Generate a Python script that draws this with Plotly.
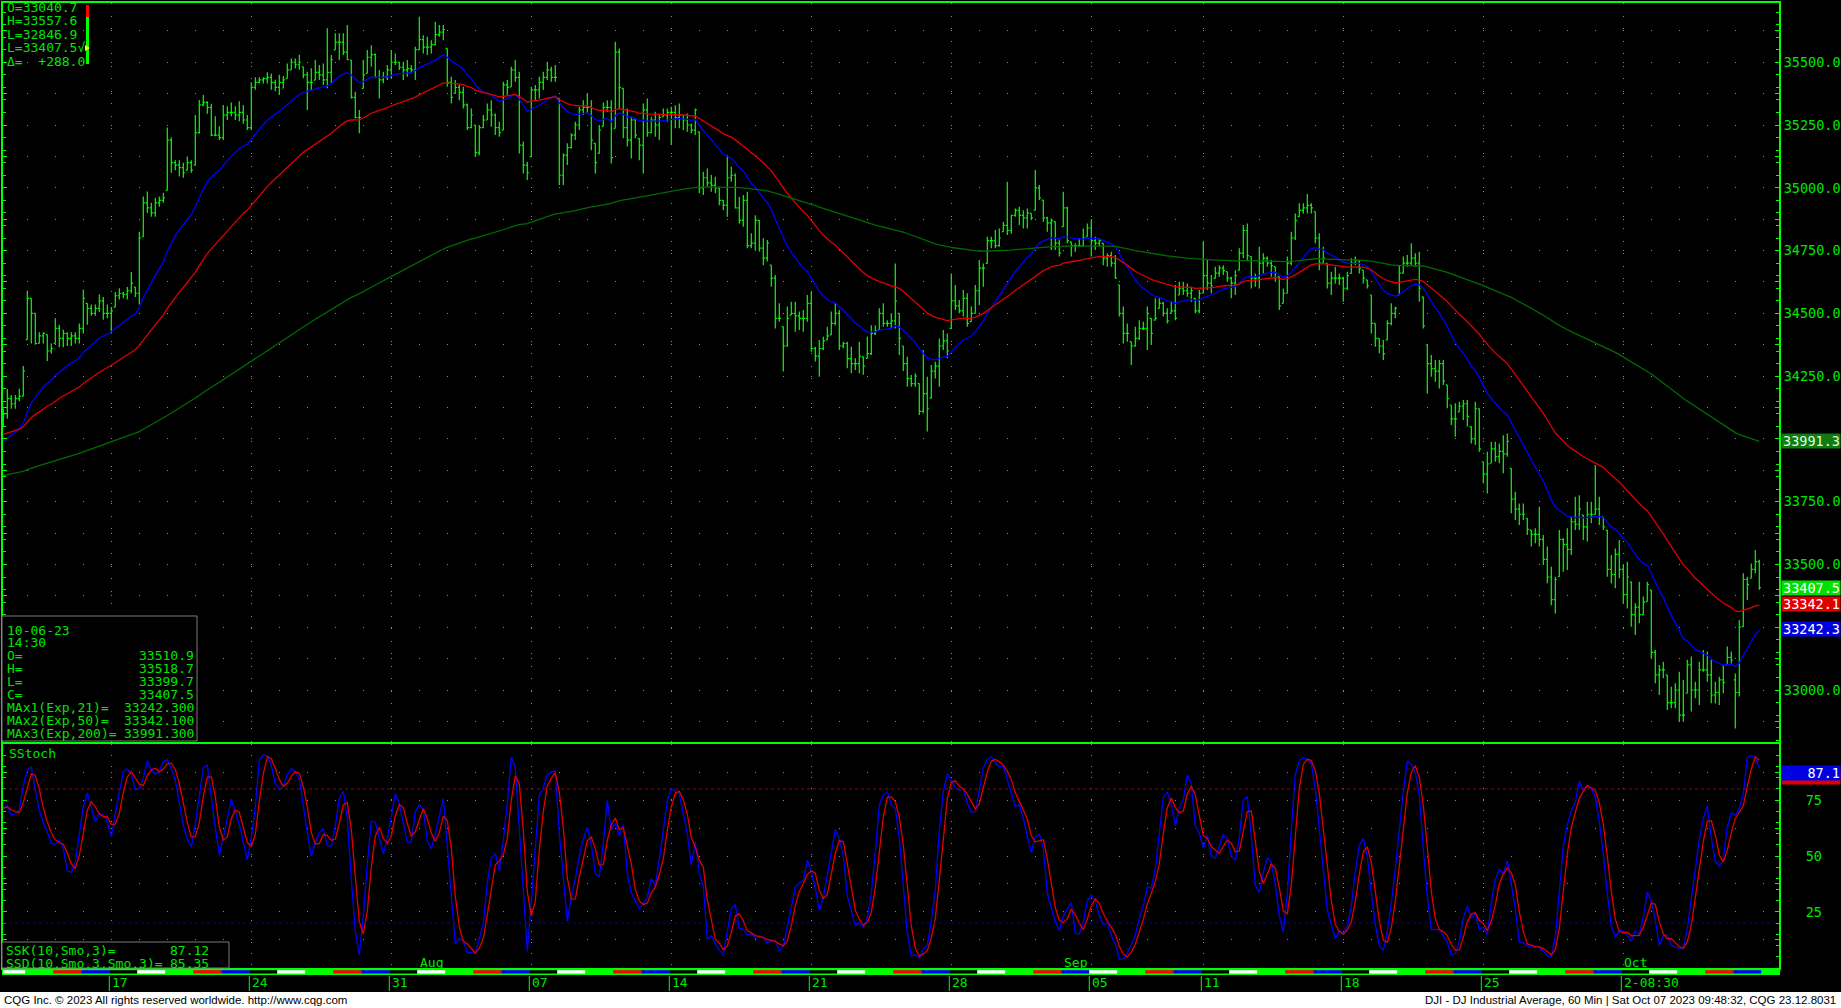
import plotly.graph_objects as go
import pandas as pd

# ---------------- data ----------------
OPEN = [
34080,34100,34160,34140,34160,34170,34395,34560,34500,34380,
34410,34415,34350,34380,34440,34400,34420,34400,34410,34400,
34440,34540,34520,34500,34520,34550,34500,34500,34525,34570,
34580,34575,34590,34605,34580,34805,34940,34920,34900,34940,
34950,34990,35190,35100,35090,35080,35070,35100,35090,35220,
35330,35340,35320,35210,35210,35200,35290,35300,35300,35290,
35300,35270,35240,35400,35420,35430,35435,35440,35420,35400,
35420,35435,35470,35500,35490,35482,35450,35420,35429,35460,
35450,35430,35460,35549,35580,35580,35540,35509,35360,35280,
35396,35456,35520,35530,35440,35430,35440,35470,35500,35500,
35480,35470,35475,35470,35550,35590,35560,35560,35570,35610,
35620,35555,35420,35376,35400,35380,35330,35240,35250,35140,
35240,35270,35310,35290,35240,35230,35410,35402,35470,35440,
35170,35090,35124,35390,35390,35420,35440,35470,35440,35356,
35050,35130,35160,35210,35250,35310,35320,35320,35177,35137,
35245,35320,35320,35237,35540,35396,35240,35190,35270,35197,
35170,35310,35220,35270,35250,35283,35290,35300,35300,35280,
35290,35270,35250,35230,35223,35000,35040,35020,35010,35000,
34950,34930,35040,35050,34920,34870,34950,34770,34780,34870,
34760,34720,34692,34640,34480,34447,34370,34493,34500,34490,
34480,34480,34540,34360,34330,34360,34394,34414,34460,34500,
34370,34380,34320,34300,34300,34327,34321,34340,34420,34434,
34500,34460,34460,34470,34500,34370,34300,34240,34220,34221,
34110,34180,34162,34270,34290,34370,34390,34440,34550,34530,
34510,34560,34467,34500,34590,34680,34699,34790,34790,34770,
34825,34850,34830,34890,34910,34890,34880,34898,34911,35000,
34951,34880,34860,34865,34780,34845,34920,34785,34770,34770,
34770,34805,34840,34790,34780,34779,34720,34730,34700,34613,
34500,34420,34387,34370,34400,34440,34440,34480,34473,34520,
34540,34500,34500,34510,34573,34600,34590,34580,34560,34510,
34580,34650,34620,34639,34660,34680,34666,34640,34620,34672,
34740,34830,34726,34640,34640,34700,34720,34700,34686,34646,
34540,34580,34700,34800,34885,34910,34920,34930,34905,34800,
34700,34699,34620,34640,34640,34640,34600,34659,34700,34710,
34672,34633,34573,34460,34400,34370,34394,34460,34500,34573,
34660,34700,34700,34720,34700,34566,34374,34300,34280,34270,
34300,34215,34135,34080,34108,34130,34140,34049,34000,34120,
33909,33860,33903,33960,33930,33950,33940,33883,33760,33720,
33700,33684,33637,33620,33620,33600,33520,33450,33360,33451,
33600,33580,33560,33670,33660,33697,33650,33700,33700,33720,
33690,33637,33480,33460,33540,33480,33380,33431,33300,33330,
33300,33352,33398,33150,33060,33080,33060,32950,32950,33000,
32900,32987,33100,33000,33000,33080,33080,33060,32980,32990,
33040,33100,33130,33040.7,32990,33252,33440,33445,33480,33510.9]

HIGH = [
34120,34200,34175,34175,34200,34290,34590,34560,34500,34425,
34425,34415,34380,34480,34455,34435,34425,34425,34425,34460,
34595,34540,34535,34535,34575,34565,34535,34525,34585,34600,
34585,34605,34665,34605,34825,34965,34985,34940,34960,34965,
34980,35240,35200,35110,35110,35100,35125,35110,35290,35350,
35370,35345,35335,35285,35245,35330,35325,35340,35325,35345,
35330,35290,35420,35440,35440,35440,35460,35455,35430,35450,
35445,35495,35515,35515,35530,35482,35462,35476,35509,35489,
35495,35635,35529,35615,35615,35615,35648,35509,35383,35310,
35509,35549,35568,35535,35469,35462,35489,35549,35535,35502,
35502,35509,35489,35562,35681,35608,35602,35588,35661,35648,
35648,35555,35442,35429,35409,35402,35336,35316,35250,35250,
35290,35336,35349,35296,35263,35422,35429,35482,35509,35462,
35184,35104,35402,35409,35442,35462,35502,35482,35489,35356,
35137,35177,35217,35263,35323,35349,35376,35349,35177,35250,
35340,35349,35349,35582,35555,35396,35316,35283,35276,35197,
35336,35356,35283,35303,35290,35316,35316,35323,35329,35336,
35290,35296,35256,35316,35223,35064,35077,35051,35044,35004,
34951,35130,35084,35057,34964,34971,34984,34819,34891,34872,
34799,34792,34692,34653,34540,34447,34527,34546,34546,34507,
34513,34573,34586,34367,34394,34407,34447,34507,34540,34513,
34387,34387,34367,34321,34387,34327,34407,34453,34453,34520,
34540,34473,34500,34699,34500,34370,34327,34254,34261,34221,
34354,34248,34294,34307,34400,34434,34420,34659,34613,34553,
34593,34580,34527,34613,34712,34699,34805,34805,34832,34838,
34865,35024,34891,34918,34925,34911,34918,34898,35071,35011,
34951,34885,34878,34865,34799,34984,34925,34785,34779,34799,
34838,34858,34872,34805,34799,34779,34739,34745,34732,34613,
34527,34460,34387,34447,34473,34467,34527,34480,34560,34560,
34546,34520,34546,34613,34626,34626,34619,34606,34560,34593,
34785,34712,34653,34686,34692,34692,34666,34646,34672,34759,
34852,34858,34726,34659,34765,34739,34726,34712,34686,34646,
34599,34726,34825,34898,34938,34938,34975,34938,34905,34819,
34765,34699,34666,34686,34659,34646,34666,34719,34726,34712,
34672,34633,34573,34460,34400,34394,34473,34540,34526,34692,
34726,34732,34779,34739,34745,34566,34374,34334,34314,34314,
34314,34215,34135,34142,34148,34155,34155,34049,34148,34122,
33909,33949,33989,33989,33982,34015,34022,33883,33790,33743,
33743,33684,33637,33644,33730,33617,33571,33491,33451,33637,
33604,33644,33690,33770,33776,33697,33750,33750,33896,33770,
33690,33637,33538,33564,33597,33498,33511,33431,33345,33431,
33372,33431,33398,33159,33100,33113,33060,33013,33027,33073,
33040,33120,33133,33033,33113,33159,33153,33120,33033,33053,
33100,33173,33153,33066,33279,33465,33451,33504,33557.6,33518.7]

LOW = [
34050,34080,34120,34120,34150,34170,34395,34380,34375,34380,
34380,34310,34340,34380,34365,34365,34370,34370,34380,34380,
34420,34455,34490,34490,34505,34475,34480,34420,34525,34555,
34560,34555,34580,34565,34535,34805,34900,34885,34885,34925,
34940,34990,35060,35070,35045,35040,35070,35060,35090,35215,
35325,35295,35205,35205,35190,35190,35270,35285,35270,35265,
35255,35230,35230,35390,35415,35415,35415,35390,35385,35370,
35395,35435,35470,35475,35470,35436,35310,35389,35429,35429,
35409,35396,35416,35549,35509,35529,35509,35356,35276,35217,
35396,35456,35482,35436,35356,35416,35429,35436,35489,35469,
35429,35442,35456,35429,35549,35535,35529,35535,35568,35602,
35588,35402,35336,35376,35349,35316,35230,35237,35124,35130,
35237,35270,35243,35210,35203,35230,35369,35402,35422,35137,
35057,35031,35124,35349,35356,35389,35429,35422,35422,35011,
35011,35091,35157,35190,35230,35290,35296,35150,35057,35137,
35245,35303,35097,35237,35316,35197,35164,35117,35197,35110,
35057,35203,35217,35203,35190,35283,35263,35170,35237,35237,
35230,35223,35217,35210,34978,34971,35004,34984,34978,34931,
34911,34885,35024,34918,34858,34845,34759,34759,34752,34746,
34692,34706,34606,34440,34467,34268,34367,34493,34427,34434,
34427,34467,34347,34308,34248,34354,34394,34414,34453,34354,
34361,34281,34261,34274,34261,34255,34321,34334,34414,34434,
34447,34447,34440,34440,34334,34270,34208,34208,34208,34095,
34102,34029,34162,34241,34208,34354,34321,34440,34513,34500,
34487,34447,34467,34500,34533,34606,34699,34759,34759,34765,
34825,34812,34818,34885,34852,34838,34838,34872,34911,34951,
34865,34825,34752,34752,34726,34845,34779,34726,34745,34765,
34765,34805,34726,34752,34765,34692,34686,34686,34639,34487,
34380,34387,34294,34367,34394,34434,34354,34374,34473,34520,
34487,34460,34500,34473,34573,34573,34566,34546,34500,34500,
34580,34593,34580,34639,34646,34653,34626,34560,34573,34672,
34719,34712,34599,34606,34599,34659,34686,34646,34626,34513,
34540,34580,34692,34792,34885,34898,34898,34898,34779,34672,
34699,34599,34573,34619,34613,34546,34593,34659,34692,34659,
34619,34599,34420,34367,34341,34314,34394,34453,34480,34573,
34659,34686,34692,34686,34546,34440,34181,34248,34228,34201,
34215,34122,34055,34009,34108,34075,34049,33982,33976,33949,
33823,33783,33903,33909,33903,33863,33929,33704,33677,33657,
33677,33617,33571,33584,33571,33498,33425,33338,33305,33451,
33471,33478,33538,33637,33637,33597,33591,33664,33697,33657,
33637,33451,33425,33405,33445,33345,33325,33252,33219,33266,
33299,33352,33126,33027,32980,33047,32920,32927,32927,32874,
32874,32987,32914,32967,32940,33073,33033,32947,32947,32940,
32987,33100,33100,32846.9,32974,33252,33358,33445,33465,33399.7]

CLOSE = [
34100,34160,34140,34160,34170,34270,34560,34500,34380,34410,
34420,34350,34360,34440,34400,34420,34400,34410,34400,34440,
34560,34520,34500,34520,34550,34500,34500,34510,34570,34580,
34575,34590,34620,34580,34800,34940,34920,34900,34940,34950,
34960,35190,35100,35090,35080,35060,35100,35070,35220,35330,
35340,35320,35210,35210,35200,35290,35300,35300,35290,35300,
35270,35240,35400,35420,35430,35435,35440,35420,35400,35420,
35430,35470,35500,35490,35500,35450,35420,35420,35460,35450,
35430,35460,35510,35580,35580,35540,35510,35360,35280,35280,
35450,35520,35530,35440,35430,35440,35470,35500,35500,35480,
35470,35475,35470,35550,35590,35560,35560,35570,35610,35620,
35630,35420,35360,35400,35380,35330,35240,35290,35140,35240,
35270,35310,35290,35240,35220,35410,35400,35470,35440,35170,
35090,35060,35390,35390,35420,35440,35470,35440,35440,35050,
35130,35160,35210,35250,35310,35320,35320,35190,35100,35230,
35320,35320,35120,35540,35400,35240,35190,35270,35210,35170,
35310,35220,35270,35250,35280,35290,35300,35300,35280,35290,
35270,35250,35230,35310,35000,35040,35020,35010,35000,34950,
34930,35040,35050,34920,34870,34950,34770,34780,34870,34760,
34720,34780,34640,34480,34480,34370,34480,34500,34490,34480,
34480,34540,34360,34330,34360,34390,34410,34460,34500,34370,
34380,34320,34300,34300,34330,34290,34340,34420,34430,34500,
34460,34460,34470,34550,34400,34300,34240,34220,34250,34110,
34180,34120,34270,34290,34370,34390,34350,34550,34530,34510,
34560,34460,34500,34590,34680,34680,34790,34790,34770,34800,
34850,34830,34890,34910,34890,34880,34900,34880,35000,34960,
34880,34860,34870,34780,34740,34920,34790,34770,34770,34770,
34800,34840,34790,34780,34790,34720,34730,34700,34640,34500,
34420,34420,34370,34400,34440,34440,34500,34420,34480,34540,
34500,34470,34510,34480,34600,34590,34580,34590,34510,34580,
34650,34620,34610,34660,34680,34670,34640,34620,34650,34740,
34830,34730,34640,34640,34700,34720,34700,34690,34660,34530,
34580,34700,34800,34870,34910,34920,34930,34920,34800,34700,
34720,34620,34640,34640,34640,34600,34650,34700,34710,34680,
34640,34610,34460,34400,34370,34340,34460,34500,34520,34660,
34700,34700,34720,34700,34600,34450,34300,34280,34270,34300,
34230,34160,34080,34080,34130,34140,34090,34000,34120,33960,
33860,33900,33960,33930,33950,33940,33990,33760,33720,33700,
33700,33640,33620,33620,33600,33520,33450,33360,33440,33600,
33580,33560,33670,33660,33720,33650,33700,33700,33720,33690,
33650,33480,33460,33540,33480,33380,33450,33300,33330,33300,
33350,33420,33150,33060,33080,33080,32950,32950,33000,32900,
32900,33100,33000,33000,33080,33080,33060,32980,32990,33040,
33030,33130,33119.5,32990,33250,33440,33420,33480,33510.9,33407.5]

EMA_PERIODS = [21, 50, 200]
EMA_SEEDS = [33976, 34015, 33852]          # values of the averages at the first bar
EMA_LAST = [33242.3, 33342.1, 33991.3]     # values printed by the chart
SSK_LAST, SSD_LAST = 87.12, 85.35
TOP_INFO = ["O=33040.7", "H=33557.6", "L=32846.9", "L=33407.5\u221a", "\u0394=  +288.0"]
BAR_DATE, BAR_TIME = "10-06-23", "14:30"
WEEK_LABELS = ["17", "24", "31", "07", "14", "21", "28", "05", "11", "18", "25", "2-08:30"]
MONTH_LABELS = ["Aug", "Sep", "Oct"]
FIRST_DAY_BARS, BARS_PER_DAY = 6, 7

# ---------------- derived series ----------------
N = len(CLOSE)
IDX = list(range(N))

def ema(vals, n, seed):
    a = 2.0 / (n + 1)
    e, out = seed, []
    for v in vals:
        e = e + a * (v - e)
        out.append(e)
    return out

def sma(vals, n):
    out = []
    for i in range(len(vals)):
        w = vals[max(0, i - n + 1):i + 1]
        out.append(sum(w) / len(w))
    return out

raw_k = []
for i in range(N):
    lo = min(LOW[max(0, i - 9):i + 1]); hi = max(HIGH[max(0, i - 9):i + 1])
    raw_k.append(100.0 * (CLOSE[i] - lo) / (hi - lo) if hi > lo else 50.0)
SSK = sma(raw_k, 3)
SSD = sma(SSK, 3)

days = [d for d in pd.bdate_range("2023-07-11", "2023-10-06") if d != pd.Timestamp("2023-09-04")]
day_start = [0] + [FIRST_DAY_BARS + BARS_PER_DAY * (k - 1) for k in range(1, len(days))]
week_starts = [day_start[k] for k in range(1, len(days)) if days[k].weekday() < days[k - 1].weekday()]
month_starts = [day_start[k] for k in range(1, len(days)) if days[k].month != days[k - 1].month]

# ---------------- styling / geometry ----------------
W, H = 1841, 1008
GREEN = "#00FF00"
TXT = "#00E600"
GRID = "#8a8a8a"
MONO = "DejaVu Sans Mono"
NARROW = "Liberation Sans Narrow, Liberation Sans, sans-serif"
def px(x): return x / W
def py(y): return 1 - y / H

X0_PX, X1_PX = 3, 1779
BAR0_PX, BAR_STEP = 3.3, 4.0
xr = [(X0_PX - BAR0_PX) / BAR_STEP, (X1_PX - BAR0_PX) / BAR_STEP]

PR_TOP, PR_BOT = 3, 742
P_AT_690, PX_PER_PT = 33000, 0.2511
yr_price = [P_AT_690 - (PR_BOT - 690) / PX_PER_PT, P_AT_690 + (690 - PR_TOP) / PX_PER_PT]
ST_TOP, ST_BOT = 744.3, 967.7
AXFONT = 13.5

fig = go.Figure()

fig.add_trace(go.Ohlc(x=IDX, open=OPEN, high=HIGH, low=LOW, close=CLOSE,
                      increasing=dict(line=dict(color=GREEN, width=1.2)),
                      decreasing=dict(line=dict(color=GREEN, width=1.2)),
                      tickwidth=0.4, hoverinfo="skip", xaxis="x", yaxis="y"))
ema_colors = ["#0000FF", "#E00000", "#006A00"]
for n, seed, col in zip(EMA_PERIODS, EMA_SEEDS, ema_colors):
    fig.add_trace(go.Scatter(x=IDX, y=ema(CLOSE, n, seed), mode="lines",
                             line=dict(color=col, width=1.3), hoverinfo="skip",
                             xaxis="x", yaxis="y"))
fig.add_trace(go.Scatter(x=IDX, y=SSK, mode="lines", line=dict(color="#0000FF", width=1.3),
                         hoverinfo="skip", xaxis="x2", yaxis="y2"))
fig.add_trace(go.Scatter(x=IDX, y=SSD, mode="lines", line=dict(color="#E00000", width=1.3),
                         hoverinfo="skip", xaxis="x2", yaxis="y2"))

price_ticks = [32875 + 125 * k for k in range(24)]
price_text = [f"{v:.1f}" if v % 250 == 0 else "" for v in price_ticks]
st_ticks = [12.5 * k for k in range(1, 8)]
st_text = [f"{v:g}" if v in (25, 50, 75) else "" for v in st_ticks]

day_dash = "0px,24.3px,1px,2.7px"
axis_common = dict(showline=True, linecolor=GREEN, linewidth=2, zeroline=False, automargin=False)

fig.update_layout(
    width=W, height=H, autosize=False,
    margin=dict(l=0, r=0, t=0, b=0, pad=0, autoexpand=False),
    paper_bgcolor="black", plot_bgcolor="black", showlegend=False,
    xaxis=dict(domain=[px(X0_PX), px(X1_PX)], range=xr, anchor="y", mirror=True,
               rangeslider=dict(visible=False),
               showticklabels=False, ticks="", tickvals=week_starts,
               showgrid=True, gridcolor=GRID, gridwidth=1, griddash="1px,11.5px",
               **axis_common),
    yaxis=dict(domain=[py(PR_BOT), py(PR_TOP)], range=yr_price, anchor="x", side="right",
               mirror="ticks", tickvals=price_ticks, ticktext=price_text,
               ticks="inside", ticklen=4, tickcolor=GREEN, tickwidth=1,
               tickfont=dict(family=MONO, size=AXFONT, color=TXT),
               showgrid=True, gridcolor=GRID, gridwidth=1, griddash=day_dash,
               minor=dict(dtick=50, ticks="inside", ticklen=3, tickcolor=GREEN, showgrid=False),
               **axis_common),
    xaxis2=dict(domain=[px(X0_PX), px(X1_PX)], range=xr, anchor="y2", matches="x",
                rangeslider=dict(visible=False),
                showticklabels=False, ticks="", tickvals=week_starts,
                showgrid=True, gridcolor=GRID, gridwidth=1, griddash="1px,10px",
                **axis_common),
    yaxis2=dict(domain=[py(ST_BOT), py(ST_TOP)], range=[0, 100], anchor="x2", side="right",
                mirror="ticks", tickvals=st_ticks, ticktext=st_text,
                ticks="inside", ticklen=4, tickcolor=GREEN, tickwidth=1,
                ticklabelstandoff=22,
                tickfont=dict(family=MONO, size=AXFONT, color=TXT),
                showgrid=True, gridcolor=GRID, gridwidth=1, griddash=day_dash,
                minor=dict(dtick=5, ticks="inside", ticklen=3, tickcolor=GREEN, showgrid=False),
                **axis_common),
)

shapes = []
# stochastic reference levels
shapes.append(dict(type="line", xref="x2 domain", yref="y2", x0=0, x1=1, y0=80, y1=80,
                   line=dict(color="#A00000", width=1, dash="dot")))
shapes.append(dict(type="line", xref="x2 domain", yref="y2", x0=0, x1=1, y0=20, y1=20,
                   line=dict(color="#0000B0", width=1, dash="dot")))
# footer background
shapes.append(dict(type="rect", xref="paper", yref="paper", x0=0, x1=1, y0=0, y1=py(992),
                   fillcolor="white", line=dict(width=0), layer="below"))
# session strip
shapes.append(dict(type="rect", xref="paper", yref="paper", x0=px(X0_PX - 1), x1=px(X1_PX + 1),
                   y0=py(975), y1=py(968.5), fillcolor=GREEN, line=dict(width=0)))
wd_colors = {0: "black", 1: "white", 2: GREEN, 3: "#FF0000", 4: "#0000FF"}
for k, d in enumerate(days):
    s = day_start[k]
    e = day_start[k + 1] if k + 1 < len(days) else N
    shapes.append(dict(type="rect", xref="x2", yref="paper", x0=s - 0.5, x1=e - 0.5,
                       y0=py(973.5), y1=py(970.2), fillcolor=wd_colors[d.weekday()],
                       line=dict(width=0)))
# date tick lines
for s in week_starts:
    shapes.append(dict(type="line", xref="x2", yref="paper", x0=s - 0.5, x1=s - 0.5,
                       y0=py(976), y1=py(991), line=dict(color=GREEN, width=1)))
# info box (bottom-left of price panel)
shapes.append(dict(type="rect", xref="paper", yref="paper", x0=px(2), x1=px(197),
                   y0=py(741), y1=py(616), fillcolor="black",
                   line=dict(color="#7a7a7a", width=1), layer="above"))
# stochastic value box
shapes.append(dict(type="rect", xref="paper", yref="paper", x0=px(2), x1=px(229),
                   y0=py(968), y1=py(942), fillcolor="black",
                   line=dict(color="#7a7a7a", width=1), layer="above"))
# day-range gauge next to the top-left readout
shapes.append(dict(type="rect", xref="paper", yref="paper", x0=px(86), x1=px(89),
                   y0=py(17), y1=py(5), fillcolor="#FF0000", line=dict(width=0)))
shapes.append(dict(type="rect", xref="paper", yref="paper", x0=px(86), x1=px(89),
                   y0=py(64), y1=py(17), fillcolor=GREEN, line=dict(width=0)))
shapes.append(dict(type="path", xref="paper", yref="paper",
                   path=f"M {px(85)},{py(45)} L {px(90)},{py(48)} L {px(85)},{py(51)} Z",
                   fillcolor="#FFFF00", line=dict(width=0)))

ann = []
def text(x, y, s, size=13, color=TXT, anchor="left", family=MONO):
    ann.append(dict(xref="paper", yref="paper", x=px(x), y=py(y), text=s, showarrow=False,
                    xanchor=anchor, yanchor="middle", font=dict(family=family, size=size, color=color)))

for k, s in enumerate(TOP_INFO):
    text(5, 7.5 + 13.4 * k, s)

info_rows = [(BAR_DATE, ""), (BAR_TIME, ""),
             ("O=", f"{OPEN[-1]:.1f}"), ("H=", f"{HIGH[-1]:.1f}"),
             ("L=", f"{LOW[-1]:.1f}"), ("C=", f"{CLOSE[-1]:.1f}"),
             (f"MAx1(Exp,{EMA_PERIODS[0]})=", f"{EMA_LAST[0]:.3f}"),
             (f"MAx2(Exp,{EMA_PERIODS[1]})=", f"{EMA_LAST[1]:.3f}"),
             (f"MAx3(Exp,{EMA_PERIODS[2]})=", f"{EMA_LAST[2]:.3f}")]
for k, (a, b) in enumerate(info_rows):
    yy = 630 + 12.9 * k
    text(5, yy, a)
    if b:
        text(196, yy, b, anchor="right")

text(7, 753, "SStoch")
text(4, 950, "SSK(10,Smo,3)=")
text(211, 950, f"{SSK_LAST:.2f}", anchor="right")
text(4, 963, "SSD(10,Smo,3,Smo,3)=")
text(211, 963, f"{SSD_LAST:.2f}", anchor="right")

# date labels
for s, lab in zip(week_starts, WEEK_LABELS):
    ann.append(dict(xref="x2", yref="paper", x=s - 0.5, y=py(982.5), text=lab, showarrow=False,
                    xanchor="left", yanchor="middle", xshift=1,
                    font=dict(family=MONO, size=13, color=TXT)))
for s, lab in zip(month_starts, MONTH_LABELS):
    ann.append(dict(xref="x2", yref="paper", x=s - 0.5, y=py(962), text=lab, showarrow=False,
                    xanchor="left", yanchor="middle", xshift=1,
                    font=dict(family=MONO, size=13, color=TXT)))

# last value boxes on the right axes
def vbox(yref, val, s, bg, fg):
    ann.append(dict(xref="paper", yref=yref, x=px(1781), y=val, text=s, showarrow=False,
                    xanchor="left", yanchor="middle", width=58, height=14, align="right",
                    bgcolor=bg, borderpad=0, font=dict(family=MONO, size=AXFONT, color=fg)))
vbox("y", EMA_LAST[2], f"{EMA_LAST[2]:.1f}", "#117A11", "#DDFFDD")
vbox("y", CLOSE[-1], f"{CLOSE[-1]:.1f}", "#00E000", "#FFFFFF")
vbox("y", EMA_LAST[1], f"{EMA_LAST[1]:.1f}", "#E00000", "#FFFFFF")
vbox("y", EMA_LAST[0], f"{EMA_LAST[0]:.1f}", "#0000E0", "#FFFFFF")
vbox("y2", SSD_LAST, "", "#E00000", "#FFFFFF")
vbox("y2", SSK_LAST, f"{SSK_LAST:.1f}", "#0000E0", "#FFFFFF")

# footer
text(2, 1000, "CQG Inc. \u00a9 2023 All rights reserved worldwide. http://www.cqg.com",
     size=11.5, color="#000000", family=NARROW)
text(1838, 1000, "DJI - DJ Industrial Average, 60 Min | Sat Oct 07 2023 09:48:32, CQG 23.12.8031",
     size=11.5, color="#000000", anchor="right", family=NARROW)

fig.update_layout(shapes=shapes, annotations=ann)
fig.write_html("out.html", config={"displayModeBar": False},
               post_script="document.body.style.margin='0px';document.body.style.padding='0px';"
                           "document.body.style.overflow='hidden';")
